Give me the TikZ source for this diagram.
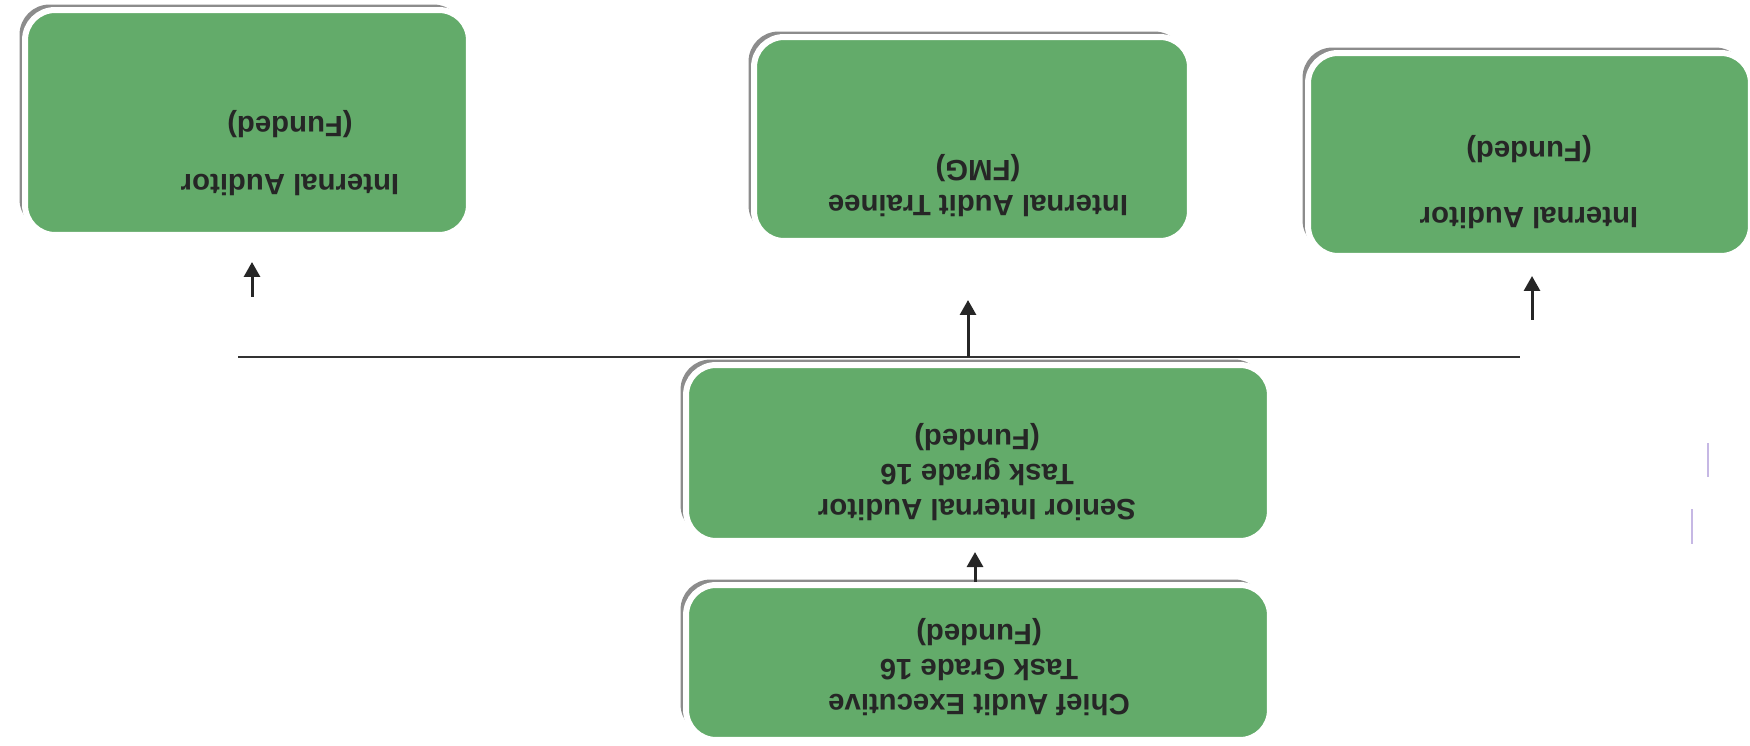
\documentclass[tikz,border=0pt]{standalone}
\usepackage{fontspec}
\setmainfont{Liberation Sans}
\usepackage{xcolor}
\usetikzlibrary{arrows.meta,shadows}

\definecolor{postgreen}{RGB}{99,171,106}
\definecolor{scanmark}{RGB}{198,184,228}

\tikzset{
post/.style 	= {rounded corners=0.6cm, fill=postgreen, draw=white,
		   line width=0.12cm, inner sep=0pt,
		   drop shadow={shadow xshift=-0.11cm, shadow yshift=0.11cm,
		                fill=black!45, opacity=1}},
posttext/.style = {rotate=180, align=center, text=black!85,
		   font=\bfseries\fontsize{16.7}{20}\selectfont},
arr/.style 	= {-{Triangle[width=0.32cm,length=0.3cm]}, line width=0.06cm, black!85}
}

\begin{document}
\begin{tikzpicture}[x=0.02cm, y=-0.02cm]
%\draw[help lines] (0,0) grid (1750,746);
\useasboundingbox (0,0) rectangle (1750,746);

% boxes (scan is upside down)
\node[post, minimum width=8.88cm, minimum height=4.5cm]  (ia1)     at (247,122.5)  {};
\node[post, minimum width=8.72cm, minimum height=4.08cm] (trainee) at (972,139)    {};
\node[post, minimum width=8.86cm, minimum height=4.06cm] (ia2)     at (1529.5,154.5) {};
\node[post, minimum width=11.68cm, minimum height=3.52cm] (senior) at (978,453)    {};
\node[post, minimum width=11.68cm, minimum height=3.1cm]  (chief)  at (978,662.5)  {};

\node[posttext] (ia1txt)     at (290,153)  {Internal Auditor\\[13pt](Funded)};
\node[posttext] (traineetxt) at (978,186)  {Internal Audit Trainee\\(FMG)};
\node[posttext] (ia2txt)     at (1529,182) {Internal Auditor\\[18pt](Funded)};
\node[posttext] (seniortxt)  at (977,472)  {Senior Internal Auditor\\Task grade 16\\(Funded)};
\node[posttext] (chieftxt)   at (979,667)  {Chief Audit Executive\\Task Grade 16\\(Funded)};

% connectors
\coordinate (lineL) at (238,357);
\coordinate (lineR) at (1520,357);
\coordinate (trjoin) at (968,357);
\coordinate (trtip) at (968,300);
\coordinate (ia1tail) at (252,297);
\coordinate (ia1tip) at (252,262);
\coordinate (ia2tail) at (1532,320);
\coordinate (ia2tip) at (1532,276);
\coordinate (srtip) at (975,552);

\draw[line width=0.05cm, black!80] (lineL) -- (lineR);
\draw[arr] (trjoin) -- (trtip);
\draw[arr] (ia1tail) -- (ia1tip);
\draw[arr] (ia2tail) -- (ia2tip);
\draw[arr] (srtip |- chief.north) -- (srtip);

% marks at the scan edge
\draw[scanmark, line width=0.035cm] (1708,443) -- (1708,477);
\draw[scanmark, line width=0.035cm] (1692,509) -- (1692,544);
\end{tikzpicture}
\end{document}
